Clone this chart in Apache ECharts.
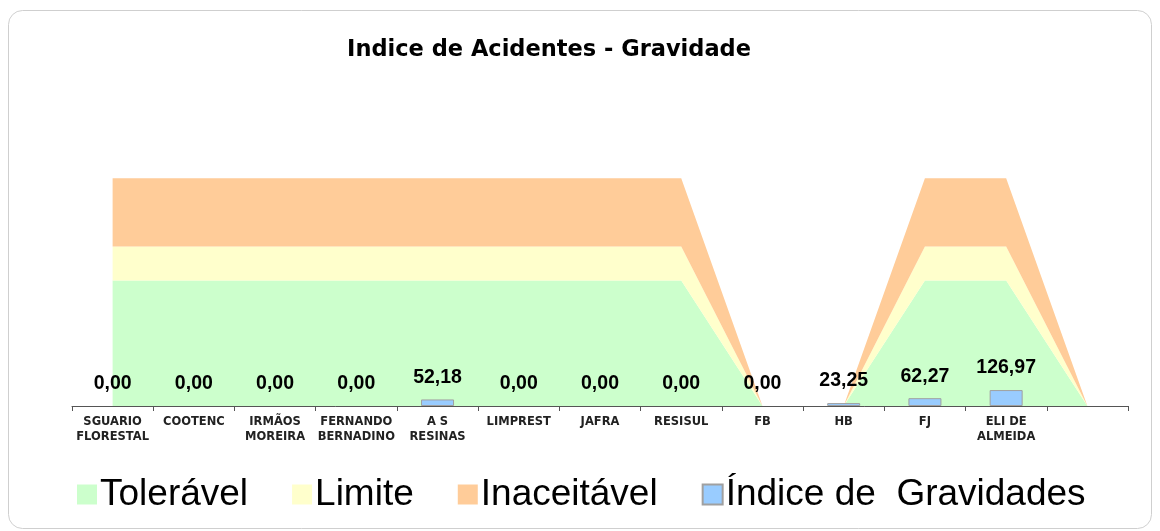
<!DOCTYPE html>
<html>
<head>
<meta charset="utf-8">
<script src="https://cdn.jsdelivr.net/npm/echarts@6/dist/echarts.min.js"></script>
<style>html,body{margin:0;padding:0;background:#fff}#c{width:1160px;height:531px}</style>
</head>
<body>
<div id="c"></div>
<script>
const categories = ['SGUARIO\nFLORESTAL','COOTENC','IRMÃOS\nMOREIRA','FERNANDO\nBERNADINO','A S\nRESINAS','LIMPREST','JAFRA','RESISUL','FB','HB','FJ','ELI DE\nALMEIDA',''];
const toleravel   = [1000,1000,1000,1000,1000,1000,1000,1000,0,0,1000,1000,0];
const limite      = [270,270,270,270,270,270,270,270,0,0,270,270,0];
const inaceitavel = [545,545,545,545,545,545,545,545,0,0,545,545,0];
const gravidades  = [0,0,0,0,52.18,0,0,0,0,23.25,62.27,126.97,null];
const seriesNames = ['Tolerável','Limite','Inaceitável','Índice de  Gravidades'];
const colors = ['#CCFFCC','#FFFFCC','#FFCC99','#99CCFF'];

const chart = echarts.init(document.getElementById('c'));
function area(name, data, color){
  return {name, type:'line', stack:'faixa', data, symbol:'none', smooth:false,
    lineStyle:{width:0, color}, itemStyle:{color}, areaStyle:{color, opacity:1}, z:1, silent:true};
}
chart.setOption({
  animation:false,
  graphic:[{type:'rect', shape:{x:8.5,y:10.5,width:1143,height:518,r:14}, style:{fill:'none', stroke:'#cfcfcf', lineWidth:1}, z:-10}],
  title:{text:'Indice de Acidentes - Gravidade', left:544, top:34, textAlign:'center',
    textStyle:{fontFamily:'DejaVu Sans', fontWeight:'bold', fontSize:22.5, color:'#000'}},
  legend:{bottom:13, left:72, itemWidth:20, itemHeight:20, itemGap:44, icon:'rect',
    data:seriesNames,
    textStyle:{fontFamily:'Liberation Sans, Arial', fontSize:37, color:'#000', padding:[0,0,0,-2]}},
  grid:{left:72, right:32, top:155, bottom:125},
  xAxis:{type:'category', data:categories, boundaryGap:true,
    axisLine:{lineStyle:{color:'#555', width:1}},
    axisTick:{show:true, length:5, lineStyle:{color:'#555'}},
    axisLabel:{interval:0, margin:9, fontFamily:'DejaVu Sans', fontWeight:'bold', fontSize:11.5, color:'#222', lineHeight:15}},
  yAxis:{type:'value', min:0, max:2000, show:false, splitLine:{show:false}},
  series:[
    area(seriesNames[0], toleravel, colors[0]),
    area(seriesNames[1], limite, colors[1]),
    area(seriesNames[2], inaceitavel, colors[2]),
    {name:seriesNames[3], type:'bar', barWidth:33, z:3,
      data:gravidades.map(v => v === 0 ? {value:v, itemStyle:{borderWidth:0}} : v),
      itemStyle:{color:colors[3], borderColor:'#a0a0a0', borderWidth:1},
      label:{show:true, position:'top', distance:12, fontFamily:'Liberation Sans, Arial', fontWeight:'bold', fontSize:19.5, color:'#000',
        formatter:p => p.value==null ? '' : p.value.toFixed(2).replace('.',',')}}
  ]
});
</script>
</body>
</html>
